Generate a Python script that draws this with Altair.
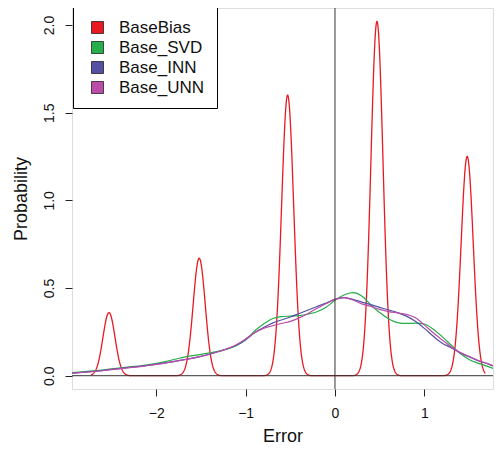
import altair as alt
import pandas as pd

series_names = ["BaseBias", "Base_SVD", "Base_INN", "Base_UNN"]
series_colors = ["#E8191F", "#25AE4A", "#5451A3", "#BB4CA8"]

# BaseBias: discrete error levels, peak heights
bias_levels = [-2.53, -1.52, -0.53, 0.47, 1.48]
bias_heights = [0.36, 0.67, 1.60, 2.02, 1.25]
bias_bandwidth = 0.0676
bias_extent = [-2.733, 1.683]

# smooth densities
grid = [-2.95, -2.7, -2.5, -2.3, -2.1, -1.9, -1.7, -1.5, -1.3, -1.1, -1.0, -0.9, -0.8,
        -0.7, -0.6, -0.5, -0.4, -0.3, -0.2, -0.1, 0.0, 0.1, 0.2, 0.3, 0.4, 0.5, 0.6,
        0.7, 0.8, 0.9, 1.0, 1.1, 1.2, 1.3, 1.4, 1.5, 1.6, 1.7, 1.8, 1.9]
svd = [0.018, 0.028, 0.039, 0.050, 0.062, 0.080, 0.105, 0.122, 0.140, 0.172, 0.205, 0.255, 0.295,
       0.325, 0.337, 0.340, 0.343, 0.352, 0.365, 0.390, 0.430, 0.460, 0.474, 0.455, 0.405, 0.360, 0.325,
       0.303, 0.298, 0.300, 0.295, 0.265, 0.223, 0.175, 0.128, 0.093, 0.072, 0.055, 0.037, 0.024]
inn = [0.015, 0.025, 0.036, 0.047, 0.059, 0.073, 0.090, 0.110, 0.138, 0.175, 0.205, 0.245, 0.275,
       0.300, 0.318, 0.335, 0.355, 0.375, 0.395, 0.415, 0.435, 0.445, 0.435, 0.420, 0.405, 0.390, 0.375,
       0.360, 0.340, 0.310, 0.270, 0.225, 0.185, 0.160, 0.130, 0.108, 0.085, 0.070, 0.050, 0.038]
unn = [0.013, 0.024, 0.035, 0.046, 0.058, 0.072, 0.090, 0.110, 0.138, 0.178, 0.210, 0.245, 0.270,
       0.285, 0.298, 0.310, 0.330, 0.355, 0.385, 0.410, 0.435, 0.445, 0.432, 0.410, 0.395, 0.378, 0.365,
       0.358, 0.350, 0.330, 0.290, 0.245, 0.204, 0.165, 0.133, 0.110, 0.088, 0.070, 0.053, 0.040]

x_ticks = [-2, -1, 0, 1]
y_ticks = [0.0, 0.5, 1.0, 1.5, 2.0]
x_domain = [-2.944, 1.769]
y_domain = [-0.0758, 2.097]

FONT = "Liberation Sans"

# samples for the BaseBias kde (count proportional to peak height)
bias_samples = []
for lv, h in zip(bias_levels, bias_heights):
    bias_samples += [lv] * int(round(h * 100))
bias_df = pd.DataFrame({"err": bias_samples})

smooth_df = pd.concat([
    pd.DataFrame({"err": grid, "density": vals, "series": name})
    for name, vals in zip(series_names[1:], [svd, inn, unn])
])
legend_df = pd.DataFrame({"series": series_names})

xs = alt.Scale(domain=x_domain, nice=False, zero=False)
ys = alt.Scale(domain=y_domain, nice=False, zero=False)

x_axis = alt.Axis(values=x_ticks, format="d", title="Error", grid=False, domain=False,
                  tickSize=7, tickColor="#222", labelPadding=10, labelFontSize=14,
                  labelColor="#111", labelFont=FONT, titleFont=FONT, titleFontSize=18,
                  titleFontWeight="normal", titleColor="#111", titleBaseline="alphabetic",
                  titleY=52)
y_axis = alt.Axis(values=y_ticks, format=".1f", title="Probability", grid=False, domain=False,
                  tickSize=7, tickColor="#222", labelPadding=9, labelFontSize=14,
                  labelAngle=270, labelAlign="center", labelBaseline="bottom",
                  labelColor="#111", labelFont=FONT, titleFont=FONT, titleFontSize=18,
                  titleFontWeight="normal", titleColor="#111", titleAngle=270,
                  titleAlign="center", titleBaseline="alphabetic", titleX=-46, titleY=190.5)

line_scale = alt.Scale(domain=series_names[1:], range=series_colors[1:])
fill_scale = alt.Scale(domain=series_names, range=series_colors)

legend = alt.Legend(
    title=None, orient="none", legendX=1, legendY=-1, fillColor="white",
    strokeColor="black", padding=12, symbolType="square", symbolSize=144,
    symbolStrokeColor="#222", symbolStrokeWidth=0.8, symbolOpacity=1,
    labelFontSize=17, labelFont=FONT, labelColor="#111", labelOffset=13,
    rowPadding=2, symbolOffset=4,
)

red = alt.Chart(bias_df).transform_density(
    "err", as_=["err", "density"], bandwidth=bias_bandwidth, extent=bias_extent, steps=1200
).mark_line(color=series_colors[0], strokeWidth=1.3, clip=True).encode(
    x=alt.X("err:Q", scale=xs, axis=x_axis),
    y=alt.Y("density:Q", scale=ys, axis=y_axis),
)

smooth = alt.Chart(smooth_df).mark_line(strokeWidth=1.2, interpolate="monotone", clip=True).encode(
    x=alt.X("err:Q", scale=xs, axis=x_axis),
    y=alt.Y("density:Q", scale=ys, axis=y_axis),
    color=alt.Color("series:N", scale=line_scale, legend=None),
    detail="series:N",
)

legend_layer = alt.Chart(legend_df).mark_square(opacity=0, stroke="#222", strokeWidth=0.8).encode(
    fill=alt.Fill("series:N", scale=fill_scale, legend=legend, sort=series_names),
)

zero_df = pd.DataFrame({"z": [0]})
hline = alt.Chart(zero_df).mark_rule(color="#333", strokeWidth=1).encode(y=alt.Y("z:Q", scale=ys, axis=y_axis))
vline = alt.Chart(zero_df).mark_rule(color="#333", strokeWidth=1).encode(x=alt.X("z:Q", scale=xs, axis=x_axis))

chart = alt.layer(red, smooth, hline, vline, legend_layer).properties(
    width=421, height=381,
    autosize=alt.AutoSizeParams(type="none"),
    padding={"left": 64, "top": 0, "right": 1, "bottom": 56},
).configure_view(stroke="#333", strokeWidth=1).configure(font=FONT)

chart.save("out.html", embed_options={"renderer": "svg", "actions": False})
